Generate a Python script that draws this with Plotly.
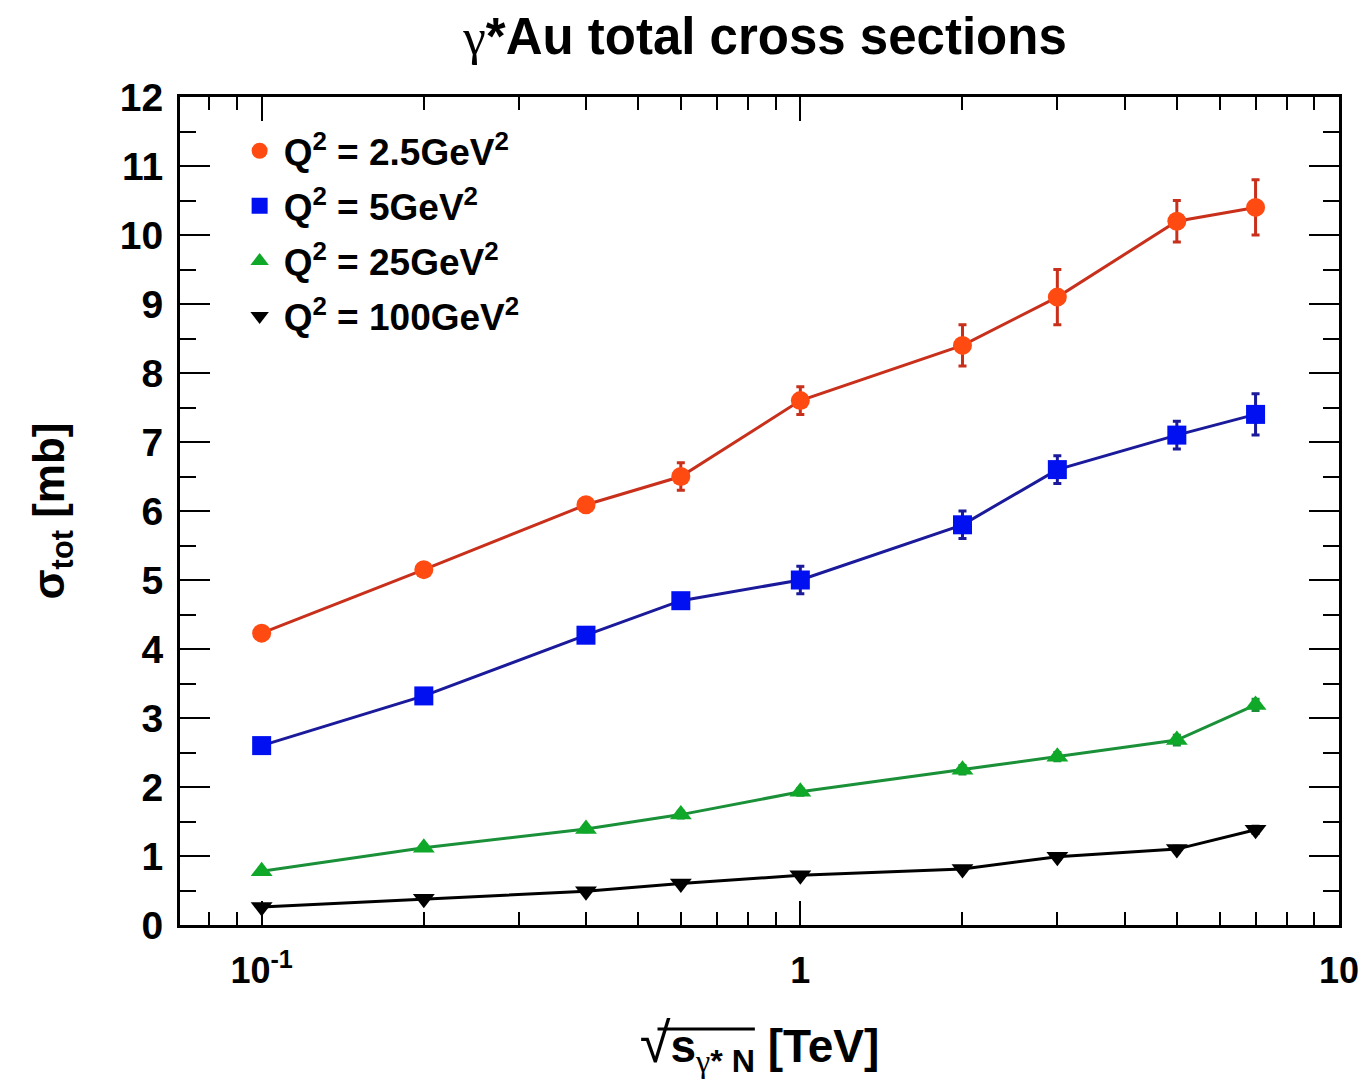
import plotly.graph_objects as go

energies = [0.1, 0.2, 0.4, 0.6, 1, 2, 3, 5, 7]

sigma_q2_2p5 = [4.23, 5.15, 6.09, 6.5, 7.6, 8.4, 9.1, 10.2, 10.4]
err_q2_2p5 = [0.06, 0.08, 0.08, 0.2, 0.2, 0.3, 0.4, 0.3, 0.4]

sigma_q2_5 = [2.6, 3.32, 4.2, 4.7, 5.0, 5.8, 6.6, 7.1, 7.4]
err_q2_5 = [0.05, 0.08, 0.1, 0.1, 0.2, 0.2, 0.2, 0.2, 0.3]

sigma_q2_25 = [0.78, 1.12, 1.39, 1.6, 1.93, 2.25, 2.44, 2.68, 3.19]
err_q2_25 = [0.03, 0.04, 0.04, 0.05, 0.05, 0.06, 0.06, 0.07, 0.08]

sigma_q2_100 = [0.26, 0.38, 0.49, 0.6, 0.72, 0.81, 0.99, 1.1, 1.38]
err_q2_100 = [0.02, 0.02, 0.03, 0.03, 0.03, 0.03, 0.04, 0.04, 0.05]

labels = ["Q<sup>2</sup> = 2.5GeV<sup>2</sup>", "Q<sup>2</sup> = 5GeV<sup>2</sup>",
          "Q<sup>2</sup> = 25GeV<sup>2</sup>", "Q<sup>2</sup> = 100GeV<sup>2</sup>"]

x_tickvals = [0.1, 1, 10]
x_ticktext = ["10<sup>-1</sup>", "1", "10"]
x_minor = [0.08, 0.09, 0.2, 0.3, 0.4, 0.5, 0.6, 0.7, 0.8, 0.9,
           2, 3, 4, 5, 6, 7, 8, 9]

series = [
    (sigma_q2_2p5, err_q2_2p5, labels[0], "circle", "#ff4a12", "#c8301c"),
    (sigma_q2_5, err_q2_5, labels[1], "square", "#0010f0", "#1a1a9a"),
    (sigma_q2_25, err_q2_25, labels[2], "triangle-up", "#10a828", "#1a9038"),
    (sigma_q2_100, err_q2_100, labels[3], "triangle-down", "#000000", "#000000"),
]

fig = go.Figure()
for i, (ys, es, name, sym, mcol, lcol) in enumerate(series):
    fig.add_trace(go.Scatter(
        x=energies, y=ys, mode="lines+markers", showlegend=False,
        line=dict(color=lcol, width=3),
        marker=dict(symbol=sym, size=19, color=mcol, line=dict(width=0)),
        error_y=dict(type="data", array=es, visible=True, color=lcol,
                     thickness=3, width=4),
    ))
for i, (ys, es, name, sym, mcol, lcol) in enumerate(series):
    fig.add_trace(go.Scatter(
        x=[None], y=[None], mode="markers", name=name, legendgroup=str(i),
        marker=dict(symbol=sym, size=18, color=mcol, line=dict(width=0)),
    ))

font_family = "Liberation Sans, Arial, sans-serif"
serif = "font-family:'Liberation Serif'"

fig.update_layout(
    width=1371, height=1089,
    margin=dict(l=180, r=26, t=97, b=164),
    paper_bgcolor="white", plot_bgcolor="white",
    title=dict(text=f"<span style=\"{serif}\">γ</span><b>*Au total cross sections</b>",
               x=0.558, xanchor="center", y=0.967, yanchor="middle",
               font=dict(family=font_family, size=51, color="black")),
    legend=dict(x=0.048, y=0.972, xanchor="left", yanchor="top",
                bgcolor="rgba(0,0,0,0)", tracegroupgap=4, itemwidth=38,
                font=dict(family=font_family, size=37, color="black", weight="bold"),
                itemsizing="trace"),
    xaxis=dict(
        type="log", range=[-1.1516, 1.0],
        tickvals=x_tickvals, ticktext=x_ticktext,
        ticks="inside", ticklen=24, tickwidth=2, tickcolor="black",
        minor=dict(tickvals=x_minor, ticks="inside", ticklen=13, tickwidth=2,
                   tickcolor="black"),
        showline=True, linewidth=3, linecolor="black", mirror="ticks",
        showgrid=False, zeroline=False,
        tickfont=dict(family=font_family, size=36, color="black", weight="bold"),
        ticklabelstandoff=12,
        title=dict(text=f"<span style=\"font-size:56px;font-weight:normal\">√</span><b>s<sub><span style=\"{serif};font-weight:normal\">γ</span>* N</sub> [TeV]</b>",
                   font=dict(family=font_family, size=46, color="black"), standoff=40),
    ),
    yaxis=dict(
        range=[0, 12], dtick=1, tick0=0,
        ticks="inside", ticklen=30, tickwidth=2, tickcolor="black",
        minor=dict(dtick=0.5, ticks="inside", ticklen=16, tickwidth=2,
                   tickcolor="black"),
        showline=True, linewidth=3, linecolor="black", mirror="ticks",
        showgrid=False, zeroline=False,
        tickfont=dict(family=font_family, size=39, color="black", weight="bold"),
        ticklabelstandoff=6,
        title=dict(text="<b>σ<sub>tot</sub> [mb]</b>",
                   font=dict(family=font_family, size=44, color="black"), standoff=42),
    ),
    shapes=[dict(type="line", xref="paper", yref="paper",
                 x0=0.412, x1=0.496, y0=-0.1256, y1=-0.1256,
                 line=dict(color="black", width=3))],
)

fig.write_html("out.html")
